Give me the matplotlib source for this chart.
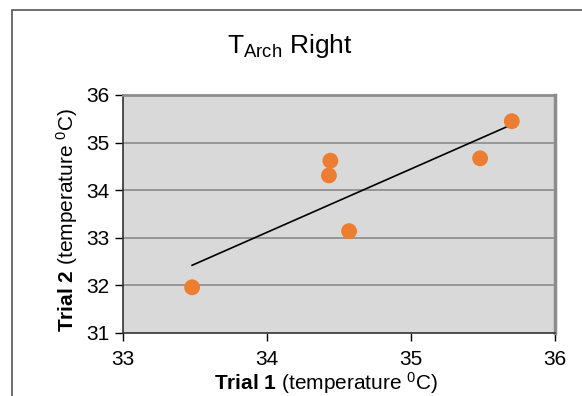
import numpy as np
import matplotlib.pyplot as plt
from matplotlib.patches import Rectangle

# trial temperatures (deg C), right arch
trial_1 = [33.48, 34.44, 34.43, 34.57, 35.48, 35.70]
trial_2 = [31.96, 34.62, 34.31, 33.14, 34.67, 35.45]

x_ticks = [33, 34, 35, 36]
y_ticks = [31, 32, 33, 34, 35, 36]

plt.rcParams['font.family'] = ['Liberation Sans', 'DejaVu Sans']
plt.rcParams['mathtext.fontset'] = 'custom'
plt.rcParams['mathtext.rm'] = 'Liberation Sans'
plt.rcParams['mathtext.bf'] = 'Liberation Sans:bold'
plt.rcParams['mathtext.it'] = 'Liberation Sans:italic'

W, H = 582, 396
fig = plt.figure(figsize=(W / 100, H / 100), dpi=100)

# chart frame
fig.patches.append(Rectangle((11.5 / W, -0.1), 1.2, 1 - 9.5 / H + 0.1,
                             transform=fig.transFigure, fill=False,
                             edgecolor='#555555', linewidth=1.2))

left, right, top, bottom = 123, 555, 95, 333
ax = fig.add_axes([left / W, 1 - bottom / H, (right - left) / W, (bottom - top) / H])
ax.set_facecolor('#D9D9D9')

ax.set_xlim(33, 36)
ax.set_ylim(31, 36)
ax.set_xticks(x_ticks)
ax.set_yticks(y_ticks)
ax.tick_params(direction='out', length=6, width=1, colors='black',
               labelsize=15, pad=4)
ax.tick_params(axis='x', pad=6)

for y in y_ticks[1:-1]:
    ax.axhline(y, color='#8C8C8C', linewidth=1.2, zorder=1)

ax.spines['left'].set_color('#333333')
ax.spines['bottom'].set_color('#333333')
ax.spines['top'].set_color('#8C8C8C')
ax.spines['right'].set_color('#8C8C8C')
ax.spines['top'].set_linewidth(2)
ax.spines['right'].set_linewidth(2.5)
ax.spines['left'].set_linewidth(1.2)
ax.spines['bottom'].set_linewidth(1.2)

ax.scatter(trial_1, trial_2, s=130, color='#ED7D31', edgecolors='none', zorder=3)

# linear trendline
slope, intercept = np.polyfit(trial_1, trial_2, 1)
xs = np.array([min(trial_1), max(trial_1)])
ax.plot(xs, slope * xs + intercept, color='black', linewidth=1.2, zorder=2)

ax.set_xlabel(r'$\bf{Trial\ 1}$ (temperature $^{0}$C)', fontsize=15, labelpad=1)
ax.set_ylabel(r'$\bf{Trial\ 2}$ (temperature $^{0}$C)', fontsize=15, labelpad=4)
ax.xaxis.label.set_x(0.47)
ax.yaxis.label.set_y(0.475)

fig.text(290 / W, 1 - 46 / H, r'T$_{\mathrm{Arch}}$ Right', fontsize=19,
         ha='center', va='center')

fig.savefig('out.png', dpi=100)
